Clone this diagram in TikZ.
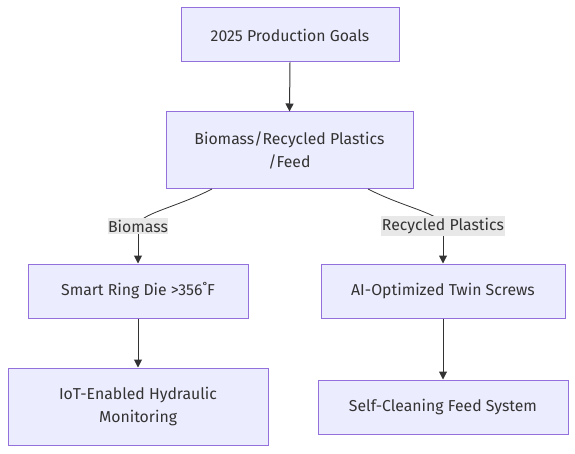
\documentclass[tikz,border=0pt]{standalone}
\usepackage{fontspec}
\setmainfont{Fira Sans}
\usetikzlibrary{arrows.meta}
\definecolor{boxfill}{HTML}{ECECFF}
\definecolor{boxline}{HTML}{9370DB}
\definecolor{ink}{HTML}{333333}
\definecolor{lblbg}{HTML}{E8E8E8}
\begin{document}
\begin{tikzpicture}[x=1pt,y=-1pt,
  box/.style={draw=boxline,fill=boxfill,line width=1pt,text=ink,align=center,
    inner sep=0pt,font=\fontsize{15.8}{23.5}\selectfont},
  lbl/.style={fill=lblbg,text=ink,inner xsep=0.5pt,inner ysep=2pt,font=\fontsize{15.8}{18}\selectfont},
  edge/.style={draw=ink,line width=1pt,-{Triangle[length=8pt,width=8pt]}},
  plain/.style={draw=ink,line width=0.8pt}]
\useasboundingbox (0,0) rectangle (575,454);
\fill[white] (0,0) rectangle (575,454);
\node[box,minimum width=218pt,minimum height=54pt] (goals) at (290,35) {2025 Production Goals};
\node[box,minimum width=247pt,minimum height=77pt] (feed) at (289.5,150.5) {Biomass/Recycled Plastics\\/Feed};
\node[box,minimum width=220pt,minimum height=54pt] (ring) at (138,291) {Smart Ring Die >356˚F};
\node[box,minimum width=244pt,minimum height=54pt] (twin) at (443,291) {AI-Optimized Twin Screws};
\node[box,minimum width=260pt,minimum height=77pt] (iot) at (138,406.5) {IoT-Enabled Hydraulic\\Monitoring};
\node[box,minimum width=250pt,minimum height=54pt] (self) at (443,407) {Self-Cleaning Feed System};
\coordinate (fl) at (212,189);
\coordinate (fr) at (368,189);
\draw[plain] (fl) .. controls (175,208) and (138,214) .. (138,226);
\draw[edge] (138,226) -- (ring.north);
\draw[plain] (fr) .. controls (405,208) and (443,214) .. (443,226);
\draw[edge] (443,226) -- (twin.north);
\node[lbl] (lb1) at (138,226) {Biomass};
\node[lbl] (lb2) at (443,226) {Recycled Plastics};
\draw[edge] (goals.south) -- (feed.north);
\draw[edge] (ring.south) -- (iot.north);
\draw[edge] (twin.south) -- (self.north);
\end{tikzpicture}
\end{document}
